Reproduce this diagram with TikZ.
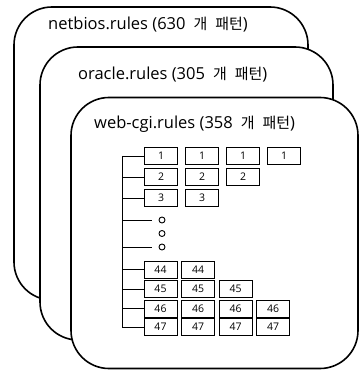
\documentclass[tikz,border=0pt]{standalone}
\usepackage{fontspec}
\setmainfont{Open Sans}
\newfontfamily\krfont{Noto Sans CJK KR}
\usetikzlibrary{positioning}

\tikzset{
  rulebox/.style={draw, line width=1.6pt, fill=white, rounded corners=38pt, inner sep=0pt},
  ruletitle/.style={anchor=base west, inner sep=0pt, font=\fontsize{16.5}{17}\selectfont},
  cell/.style={draw, line width=0.9pt, minimum width=33pt, minimum height=17pt, inner sep=0pt, font=\fontsize{10.5}{11}\selectfont},
  dot/.style={draw, circle, line width=0.9pt, minimum size=6pt, inner sep=0pt},
  tree/.style={line width=0.9pt}
}
% "N 개 패턴"
\newcommand{\patcount}[1]{#1\hspace{8pt}{\krfont\fontsize{15}{16}\selectfont 개\hspace{8pt}패턴}}

\begin{document}
\begin{tikzpicture}[x=1pt, y=-1pt]
\useasboundingbox (0,0) rectangle (360,371);

% --- Stacked rule files ---
\node[rulebox, minimum width=294pt, minimum height=293pt] (rules1) at (161,153.5) {};
\node[ruletitle] (title1) at (48,30) {netbios.rules (\patcount{630})};

\node[rulebox, minimum width=293pt, minimum height=293pt] (rules2) at (186.5,193.5) {};
\node[ruletitle] (title2) at (78,80) {oracle.rules (\patcount{305})};

\node[rulebox, minimum width=287pt, minimum height=271pt] (rules3) at (214.5,233) {};
\node[ruletitle] (title3) at (94,129) {web-cgi.rules (\patcount{358})};

% --- Pattern table: first rows ---
\foreach \n/\k in {1/4, 2/3, 3/2}
  \foreach \i in {1,...,\k}
    \node[cell] (c\n-\i) at ({161+41*(\i-1)},{135+21*\n}) {\n};

% --- Skipped rows ---
\node[dot] (dot1) at (162,220) {};
\node[dot] (dot2) at (162,233.5) {};
\node[dot] (dot3) at (162,247) {};

% --- Pattern table: last rows ---
\foreach \n/\k/\y in {44/2/269.5, 45/3/289, 46/4/308.5, 47/4/327}
  \foreach \i in {1,...,\k}
    \node[cell] (c\n-\i) at ({160.5+37.5*(\i-1)},\y) {\n};

% --- Tree ---
\coordinate (trunktop) at (122,156);
\coordinate (trunkbot) at (122,327);
\draw[tree] (trunktop) -- (trunkbot);
\foreach \r in {c1-1, c2-1, c3-1, c44-1, c45-1, c46-1, c47-1}
  \draw[tree] (trunktop |- \r.west) -- (\r.west);
\draw[tree] (trunktop |- dot1) -- ([xshift=-7pt]dot1.west);
\draw[tree] (trunktop |- dot3) -- ([xshift=-7pt]dot3.west);

\end{tikzpicture}
\end{document}
